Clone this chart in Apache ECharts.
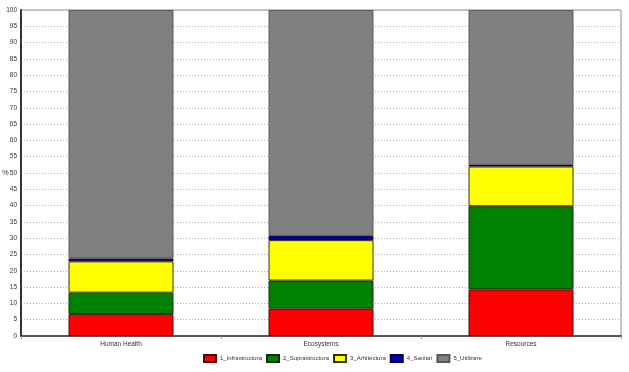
<!DOCTYPE html>
<html><head><meta charset="utf-8">
<script src="https://cdn.jsdelivr.net/npm/echarts@6/dist/echarts.min.js"></script>
<style>html,body{margin:0;padding:0;background:#fff}#c{width:629px;height:372px}</style>
</head><body><div id="c"></div>
<script>
const categories = ['Human Health', 'Ecosystems', 'Resources'];
const seriesNames = ['1_Infrastructura', '2_Suprastructura', '3_Arhitectura', '4_Sanitar', '5_Utilizare'];
const infrastructura = [6.7, 8.4, 14.3];
const suprastructura = [6.6, 8.6, 25.5];
const arhitectura = [9.6, 12.4, 12.2];
const sanitar = [0.9, 1.3, 0.5];
const utilizare = [76.2, 69.3, 47.5];
const yTicks = {min: 0, max: 100, step: 5};
const yAxisTitle = '%';

const values = [infrastructura, suprastructura, arhitectura, sanitar, utilizare];
const colors = ['#FF0000', '#008000', '#FFFF00', '#0000B0', '#808080'];
const borders = ['#3a1010', '#1a2a1a', '#333300', '#000040', '#5a5a5a'];

const chart = echarts.init(document.getElementById('c'));
chart.setOption({
  animation: false,
  textStyle: {fontFamily: 'Liberation Sans'},
  title: {text: yAxisTitle, left: 0, top: 167, padding: 2, textStyle: {fontSize: 7.5, fontWeight: 'normal', color: '#333'}},
  grid: {left: 21, right: 8, top: 10, bottom: 36, show: true, borderColor: '#8a8a8a', borderWidth: 1, containLabel: false, outerBoundsMode: 'none'},
  legend: {
    bottom: 4, left: 198, itemWidth: 12, itemHeight: 7, itemGap: 4, icon: 'rect',
    textStyle: {fontSize: 6, color: '#333', padding: [0, 0, 0, -1]},
    data: seriesNames
  },
  xAxis: {
    type: 'category', data: categories,
    axisLine: {lineStyle: {color: '#333', width: 1.5}},
    axisTick: {show: true, length: 3, lineStyle: {color: '#999'}},
    axisLabel: {fontSize: 6.5, color: '#333', margin: 5}
  },
  yAxis: {
    type: 'value', min: yTicks.min, max: yTicks.max, interval: yTicks.step,
    axisLine: {show: true, lineStyle: {color: '#333', width: 2}},
    axisTick: {show: false},
    axisLabel: {fontSize: 6.5, color: '#333', margin: 4},
    splitLine: {lineStyle: {color: '#b0b0b0', type: [1, 2], width: 1}}
  },
  series: seriesNames.map((n, i) => ({
    name: n, type: 'bar', stack: 'total', barWidth: 105,
    data: values[i],
    itemStyle: {color: colors[i], borderColor: borders[i], borderWidth: 1}
  }))
});
</script></body></html>
